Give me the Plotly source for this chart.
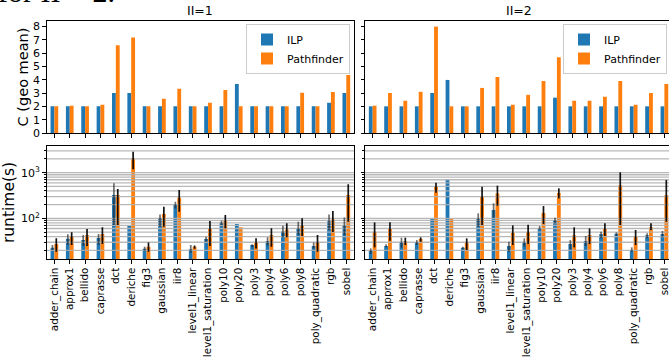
import math
import plotly.graph_objects as go

categories = ["adder_chain", "approx1", "bellido", "caprasse", "dct", "deriche", "fig3",
              "gaussian", "iir8", "level1_linear", "level1_saturation", "poly10", "poly20",
              "poly3", "poly4", "poly6", "poly8", "poly_quadratic", "rgb", "sobel"]

# C (geo mean)
c_ilp_ii1 = [2, 2, 2, 2, 3, 3, 2, 2, 2, 2, 2, 2, 3.67, 2, 2, 2, 2, 2, 2.27, 3]
c_pf_ii1 = [2, 2.05, 2, 2.12, 6.58, 7.16, 2, 2.57, 3.31, 2, 2.27, 3.23, 2, 2, 2, 2, 3.01, 2, 3.08, 4.35]
c_ilp_ii2 = [2, 2, 2, 2, 3, 3.98, 2, 2, 2, 2, 2, 2, 2.65, 2, 2, 2, 2, 2, 2, 2]
c_pf_ii2 = [2.05, 3.0, 2.42, 3.09, 7.98, 2, 2, 3.38, 4.2, 2.12, 2.86, 3.9, 5.68, 2.42, 2.42, 2.72, 3.9, 2.12, 3.0, 3.68]

# runtime (s): value, lower bound, upper bound
rt_ilp_ii1 = [22.8, 35.9, 33.5, 37.1, 324, 69.1, 21.7, 102, 203, 21, 35.3, 80.4, 75.2, 26.1, 31.9, 51.9, 60.4, 24.8, 86, 69.1]
rt_ilp_ii1_lo = [20.3, 26.1, 24.8, 26.1, 71.5, 69.1, 19.6, 65.7, 165, 17.7, 30.8, 71.5, 75.2, 23.2, 25.6, 38.4, 43.2, 22, 55.6, 42.5]
rt_ilp_ii1_hi = [26.1, 44.7, 43.2, 45.4, 584, 69.1, 24, 122, 232, 26.1, 39.7, 89, 75.2, 27, 38.4, 69.1, 84.5, 29.8, 122, 105]

rt_pf_ii1 = [27.4, 39.7, 43.2, 45.4, 324, 2060, 24, 124, 284, 24, 59.4, 89, 63.6, 28.8, 43.2, 56.5, 69.1, 29.8, 95, 324]
rt_pf_ii1_lo = [18.6, 26.1, 24.8, 27.4, 71.5, 1183, 18.6, 65.7, 140, 21.5, 24.8, 60.4, 63.6, 22, 24, 38.4, 41.1, 18.6, 50.2, 84.5]
rt_pf_ii1_hi = [36.5, 49.4, 58.4, 63.6, 439, 2884, 29.8, 180, 417, 25.5, 88, 118, 63.6, 36.5, 60.4, 77.8, 100, 43.2, 145, 555]

rt_ilp_ii2 = [19.3, 24.8, 29.8, 30.3, 98.3, 714, 22.8, 96.7, 152, 24.8, 29.3, 61.4, 92, 27.4, 31.9, 44.7, 46.2, 20.3, 42.5, 45.4]
rt_ilp_ii2_lo = [16.6, 23.2, 22.8, 26.1, 98.3, 714, 21.2, 65.7, 103, 18.6, 24, 55.6, 77.8, 21, 24.8, 36.5, 41.1, 18.6, 36.5, 39.7]
rt_ilp_ii2_hi = [22, 27, 37.8, 33.5, 98.3, 714, 24, 129, 213, 30.8, 36.5, 68, 103, 33.5, 41.1, 51.1, 49.4, 23.2, 47, 52.9]

rt_pf_ii2 = [51.1, 58.4, 31.4, 35.3, 485, 96.7, 28.8, 293, 352, 47.7, 50.2, 131, 359, 42.5, 43.2, 58.4, 528, 39, 63.6, 319]
rt_pf_ii2_lo = [23.2, 32.4, 26.1, 30.8, 365, 96.7, 20.3, 71.5, 189, 26.1, 27.4, 75.2, 274, 23.2, 27.4, 41.1, 71.5, 26.1, 55.6, 84.5]
rt_pf_ii2_hi = [81.7, 81.7, 37.8, 38.4, 604, 96.7, 36.5, 494, 519, 70.3, 72.7, 186, 454, 63.6, 60.4, 77.8, 1016, 55.6, 77.8, 690]

panel_titles = ["II=1", "II=2"]
series_names = ["ILP", "Pathfinder"]
colors = ["#1f77b4", "#ff7f0e"]
err_colors = ["rgba(35,35,35,0.65)", "rgba(0,0,0,0.92)"]

FONT = "DejaVu Sans"
W, H = 669, 358

fig = go.Figure()

def add_bars(xa, ya, vals, names, legend, show):
    for i, v in enumerate(vals):
        fig.add_trace(go.Bar(x=categories, y=v, name=names[i], marker_color=colors[i],
                             marker_line_width=0, xaxis=xa, yaxis=ya,
                             offsetgroup=str(i), legend=legend, showlegend=show,
                             hoverinfo="skip"))

add_bars("x", "y", [c_ilp_ii1, c_pf_ii1], series_names, "legend", True)
add_bars("x2", "y2", [c_ilp_ii2, c_pf_ii2], series_names, "legend2", True)

grid_vals = [m * 10 ** k for k in range(1, 4) for m in range(1, 10) if 12 < m * 10 ** k < 3900]

def add_rt(xa, ya, xgrid, xerr, sets):
    # bars
    for i, (v, lo, hi) in enumerate(sets):
        fig.add_trace(go.Bar(x=categories, y=v, marker_color=colors[i], marker_line_width=0,
                             xaxis=xa, yaxis=ya, offsetgroup=str(i), showlegend=False,
                             name=series_names[i], hoverinfo="skip"))
    # grid lines drawn over the bars (overlay subplot)
    gx, gy = [], []
    for g in grid_vals:
        gx += [0, 1, None]
        gy += [g, g, None]
    fig.add_trace(go.Scatter(x=gx, y=gy, mode="lines", xaxis=xgrid, yaxis=ya,
                             line=dict(color="rgba(176,176,176,0.9)", width=1.3),
                             showlegend=False, hoverinfo="skip"))
    # error bars drawn over the grid lines (second overlay subplot)
    for i, (v, lo, hi) in enumerate(sets):
        fig.add_trace(go.Bar(
            x=categories, y=v, marker_color="rgba(0,0,0,0)", marker_line_width=0,
            xaxis=xerr, yaxis=ya, offsetgroup=str(i), showlegend=False, hoverinfo="skip",
            error_y=dict(type="data", symmetric=False,
                         array=[h - a for a, h in zip(v, hi)],
                         arrayminus=[a - l for a, l in zip(v, lo)],
                         color=err_colors[i], thickness=1.7, width=0)))

add_rt("x3", "y3", "x5", "x7", [(rt_ilp_ii1, rt_ilp_ii1_lo, rt_ilp_ii1_hi), (rt_pf_ii1, rt_pf_ii1_lo, rt_pf_ii1_hi)])
add_rt("x4", "y4", "x6", "x8", [(rt_ilp_ii2, rt_ilp_ii2_lo, rt_ilp_ii2_hi), (rt_pf_ii2, rt_pf_ii2_lo, rt_pf_ii2_hi)])

xl = [46.7 / W, 354 / W]
xr = [365 / W, 1.0]
yt = [1 - 133 / H, 1 - 21 / H]
yb = [1 - 259 / H, 1 - 146 / H]
rng_l = [-0.5, 19.5]
rng_r = [-0.5, 19.3]

axis_common = dict(showline=True, linecolor="black", linewidth=1, ticks="outside",
                   ticklen=3.5, tickcolor="black", tickwidth=1, showgrid=False, zeroline=False,
                   automargin=False,
                   tickfont=dict(size=11, color="black", family=FONT))

xcat = dict(type="category", categoryorder="array", categoryarray=categories, mirror=True, **axis_common)
xbot = dict(xcat)
xbot["tickfont"] = dict(size=10.4, color="black", family=FONT)

hidden = dict(visible=False, showgrid=False, zeroline=False, automargin=False, fixedrange=True)

rt_range = [math.log10(12.9), math.log10(3836)]

layout = dict(
    width=W, height=H, margin=dict(l=0, r=0, t=0, b=0, autoexpand=False),
    paper_bgcolor="white", plot_bgcolor="white",
    font=dict(family=FONT, color="black"),
    barmode="group", bargap=0.5, bargroupgap=0,
    showlegend=True, hovermode=False,
    xaxis=dict(domain=xl, anchor="y", range=rng_l, showticklabels=False, **xcat),
    xaxis2=dict(domain=xr, anchor="y2", range=rng_r, showticklabels=False, **xcat),
    xaxis3=dict(domain=xl, anchor="y3", range=rng_l, tickangle=-90, **xbot),
    xaxis4=dict(domain=xr, anchor="y4", range=rng_r, tickangle=-90, **xbot),
    xaxis5=dict(overlaying="x3", anchor="y3", range=[0, 1], **hidden),
    xaxis6=dict(overlaying="x4", anchor="y4", range=[0, 1], **hidden),
    xaxis7=dict(overlaying="x3", anchor="y3", type="category", categoryorder="array",
                categoryarray=categories, range=rng_l, **hidden),
    xaxis8=dict(overlaying="x4", anchor="y4", type="category", categoryorder="array",
                categoryarray=categories, range=rng_r, **hidden),
    yaxis=dict(domain=yt, anchor="x", range=[0, 8.4], dtick=1, mirror=True,
               title=dict(text="C (geo mean)", font=dict(size=14.5, family=FONT), standoff=0),
               **axis_common),
    yaxis2=dict(domain=yt, anchor="x2", range=[0, 8.4], dtick=1, mirror=False,
                showticklabels=False, **axis_common),
    yaxis3=dict(domain=yb, anchor="x3", type="log", range=rt_range,
                tickmode="array", tickvals=[100, 1000], ticktext=["10<sup>2</sup>", "10<sup>3</sup>"],
                mirror=True,
                minor=dict(tickmode="array", tickvals=grid_vals, ticks="outside", ticklen=2,
                           tickcolor="black", showgrid=False),
                title=dict(text="runtime(s)", font=dict(size=15.5, family=FONT), standoff=3),
                **axis_common),
    yaxis4=dict(domain=yb, anchor="x4", type="log", range=rt_range,
                tickmode="array", tickvals=[100, 1000], showticklabels=False, mirror=False,
                minor=dict(tickmode="array", tickvals=grid_vals, ticks="outside", ticklen=2,
                           tickcolor="black", showgrid=False),
                **axis_common),
    legend=dict(x=350 / W, xanchor="right", y=1 - 24 / H, yanchor="top",
                bgcolor="rgba(255,255,255,0.85)", bordercolor="#cccccc", borderwidth=1,
                font=dict(size=11, family=FONT), tracegroupgap=0, itemwidth=30),
    legend2=dict(x=667 / W, xanchor="right", y=1 - 24 / H, yanchor="top",
                 bgcolor="rgba(255,255,255,0.85)", bordercolor="#cccccc", borderwidth=1,
                 font=dict(size=11, family=FONT), tracegroupgap=0, itemwidth=30),
)
fig.update_layout(**layout)

annotations = [
    dict(text=panel_titles[0], x=(xl[0] + xl[1]) / 2, y=yt[1], xref="paper", yref="paper",
         xanchor="center", yanchor="bottom", showarrow=False, yshift=1,
         font=dict(size=12.5, family=FONT)),
    dict(text=panel_titles[1], x=(xr[0] + 672 / W) / 2, y=yt[1], xref="paper", yref="paper",
         xanchor="center", yanchor="bottom", showarrow=False, yshift=1,
         font=dict(size=12.5, family=FONT)),
    dict(text="for II = 2.", x=-0.006, y=1 + 8.5 / H, xref="paper", yref="paper",
         xanchor="left", yanchor="middle", showarrow=False,
         font=dict(size=30, family="Liberation Serif", color="black")),
]
fig.update_layout(annotations=annotations)

fig.write_html("out.html", config={"displayModeBar": False, "staticPlot": True},
               post_script="document.body.style.margin='0px';")
